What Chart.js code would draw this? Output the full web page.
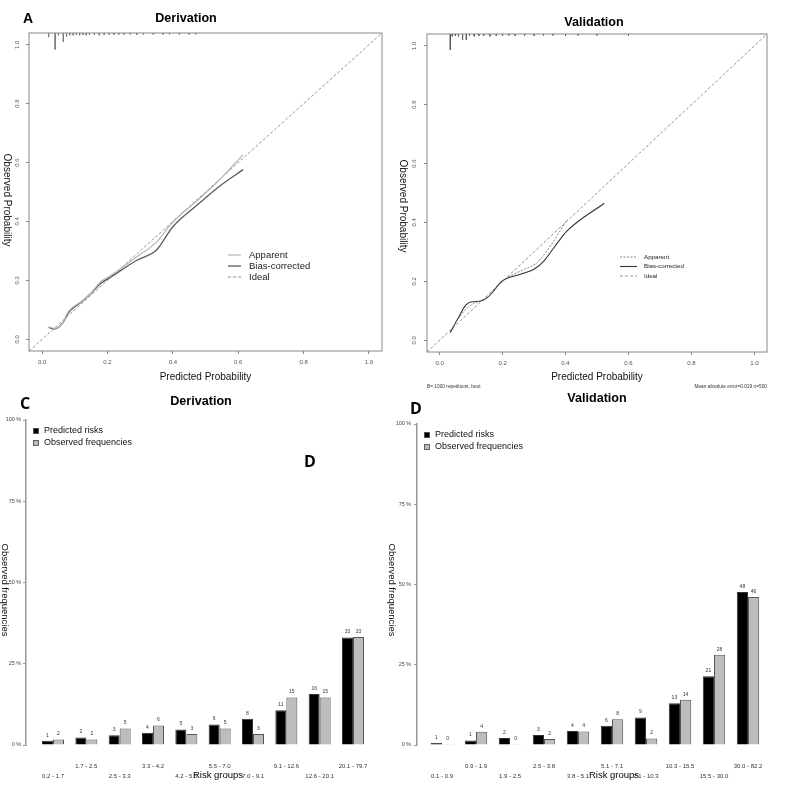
<!DOCTYPE html>
<html>
<head>
<meta charset="utf-8">
<script src="https://cdn.jsdelivr.net/npm/chart.js@4.4.1/dist/chart.umd.min.js"></script>
<style>
  body { margin: 0; background: #fff; width: 787px; height: 787px; position: relative; overflow: hidden;
         font-family: "Liberation Sans", Arial, sans-serif; }
  canvas { position: absolute; }
  .t { position: absolute; transform: translate(-50%, -50%); white-space: nowrap; color: #000; }
  .b { font-weight: bold; font-size: 12.6px; }
  .letter { font-family: "Open Sans", sans-serif; font-weight: bold; font-size: 16px; }
  .v { position: absolute; writing-mode: vertical-rl; transform: translate(-50%, -50%); white-space: nowrap; color: #111; }
</style>
</head>
<body>
<canvas id="cA" width="395" height="392" style="left:0;top:0"></canvas>
<canvas id="cB" width="392" height="392" style="left:395px;top:0"></canvas>
<canvas id="cC" width="395" height="402" style="left:0;top:385px"></canvas>
<canvas id="cD" width="397" height="402" style="left:390px;top:385px"></canvas>

<div class="t" style="left:28px;top:18px;font-weight:bold;font-size:14px">A</div>
<div class="t b" style="left:186px;top:18px">Derivation</div>
<div class="t b" style="left:594px;top:22px">Validation</div>
<div class="v" style="left:7px;top:200px;font-size:10px">Observed Probability</div>
<div class="v" style="left:403px;top:206px;font-size:10px">Observed Probability</div>

<div class="t letter" style="left:25px;top:403px">C</div>
<div class="t b" style="left:201px;top:401px">Derivation</div>
<div class="t letter" style="left:416px;top:408px">D</div>
<div class="t b" style="left:597px;top:398px">Validation</div>
<div class="t letter" style="left:310px;top:461px">D</div>
<div class="v" style="left:5px;top:590px;font-size:9.5px">Observed frequencies</div>
<div class="v" style="left:392px;top:590px;font-size:9.5px">Observed frequencies</div>
<div class="t" style="left:218px;top:774px;font-size:9.5px">Risk groups</div>
<div class="t" style="left:614px;top:774px;font-size:9.5px">Risk groups</div>

<script>
// calibration plots (A, B)
const probTicks = [0, 0.2, 0.4, 0.6, 0.8, 1.0];
const probRange = [-0.04, 1.04];

const derivX        = [0.02, 0.04, 0.065, 0.08, 0.12, 0.15, 0.18, 0.21, 0.29, 0.35, 0.40, 0.48, 0.54, 0.615];
const derivApparent = [0.042, 0.037, 0.060, 0.094, 0.128, 0.157, 0.196, 0.216, 0.280, 0.330, 0.398, 0.476, 0.538, 0.627];
const derivBias     = [0.040, 0.035, 0.058, 0.089, 0.126, 0.156, 0.190, 0.211, 0.268, 0.303, 0.382, 0.461, 0.517, 0.576];
const derivRugX   = [0.02, 0.04, 0.05, 0.065, 0.075, 0.085, 0.095, 0.105, 0.115, 0.125, 0.135, 0.145, 0.16, 0.175,
                     0.19, 0.205, 0.22, 0.235, 0.25, 0.27, 0.29, 0.31, 0.34, 0.37, 0.39, 0.42, 0.45, 0.47];
const derivRugLen = [0.014, 0.056, 0.008, 0.03, 0.012, 0.008, 0.008, 0.006, 0.008, 0.006, 0.008, 0.006, 0.006, 0.008,
                     0.006, 0.006, 0.006, 0.005, 0.006, 0.005, 0.006, 0.005, 0.005, 0.005, 0.005, 0.005, 0.005, 0.005];

const validBiasX    = [0.034, 0.057, 0.083, 0.099, 0.131, 0.157, 0.199, 0.257, 0.30, 0.331, 0.363, 0.405, 0.523];
const validBias     = [0.026, 0.071, 0.119, 0.130, 0.133, 0.150, 0.201, 0.224, 0.241, 0.269, 0.314, 0.371, 0.465];
const validAppX     = [0.035, 0.067, 0.094, 0.131, 0.157, 0.199, 0.257, 0.31, 0.352, 0.405];
const validApparent = [0.032, 0.085, 0.115, 0.135, 0.150, 0.201, 0.235, 0.264, 0.320, 0.410];
const validRugX   = [0.034, 0.04, 0.05, 0.06, 0.073, 0.085, 0.095, 0.11, 0.125, 0.14, 0.16, 0.18, 0.2, 0.22,
                     0.24, 0.27, 0.3, 0.33, 0.36, 0.4, 0.44, 0.5, 0.6];
const validRugLen = [0.054, 0.008, 0.006, 0.008, 0.02, 0.02, 0.006, 0.008, 0.006, 0.006, 0.008, 0.006, 0.006, 0.005,
                     0.006, 0.005, 0.006, 0.005, 0.005, 0.006, 0.005, 0.005, 0.005];

// risk group bar plots (C, D)
const pctTicks = [0, 25, 50, 75, 100];
const derivGroups    = ['0.2 - 1.7', '1.7 - 2.5', '2.5 - 3.3', '3.3 - 4.2', '4.2 - 5.5',
                        '5.5 - 7.0', '7.0 - 9.1', '9.1 - 12.6', '12.6 - 20.1', '20.1 - 79.7'];
const derivPredicted = [1.3, 2.3, 3.0, 3.8, 4.8, 6.3, 8.1, 10.7, 15.7, 33.1];
const derivObserved  = [1.7, 1.7, 5.1, 6.0, 3.4, 5.1, 3.4, 14.6, 14.6, 33.2];
const validGroups    = ['0.1 - 0.9', '0.9 - 1.9', '1.9 - 2.5', '2.5 - 3.8', '3.8 - 5.1',
                        '5.1 - 7.1', '7.1 - 10.3', '10.3 - 15.5', '15.5 - 30.0', '30.0 - 82.2'];
const validPredicted = [0.6, 1.4, 2.2, 3.1, 4.4, 6.0, 8.6, 13.0, 21.4, 47.7];
const validObserved  = [0.2, 4.1, 0.2, 1.9, 4.2, 8.0, 2.0, 14.1, 28.1, 46.1];

const FONT = '"Liberation Sans", Arial, sans-serif';
Chart.defaults.font.family = FONT;
Chart.defaults.color = '#555';

function fixSize(prop, size) {
  return scale => {
    scale[prop] = size;
    scale.paddingLeft = scale.paddingRight = scale.paddingTop = scale.paddingBottom = 0;
  };
}

function pts(xs, ys) {
  return xs.map((x, i) => ({ x, y: ys[i] }));
}

function rugPoints(xs, lens) {
  const out = [];
  xs.forEach((x, i) => {
    out.push({ x, y: probRange[1] }, { x, y: probRange[1] - lens[i] }, { x, y: null });
  });
  return out;
}

const frame = {
  id: 'frame',
  afterDraw(chart) {
    const { ctx, chartArea: a } = chart;
    ctx.save();
    ctx.strokeStyle = '#888';
    ctx.lineWidth = 1;
    ctx.strokeRect(a.left, a.top, a.right - a.left, a.bottom - a.top);
    ctx.restore();
  }
};

const lineLegend = {
  id: 'lineLegend',
  afterDraw(chart, args, o) {
    const ctx = chart.ctx;
    ctx.save();
    ctx.font = o.size + 'px ' + FONT;
    ctx.textBaseline = 'middle';
    let row = 0;
    chart.data.datasets.forEach(ds => {
      if (!ds.label) return;
      const y = o.y + row * o.rowGap;
      ctx.strokeStyle = ds.borderColor;
      ctx.lineWidth = ds.borderWidth;
      ctx.setLineDash(ds.borderDash || []);
      ctx.beginPath();
      ctx.moveTo(o.x, y);
      ctx.lineTo(o.x + o.len, y);
      ctx.stroke();
      ctx.setLineDash([]);
      ctx.fillStyle = '#222';
      ctx.fillText(ds.label, o.x + o.len + o.gap, y);
      row++;
    });
    ctx.restore();
  }
};

const footnotes = {
  id: 'footnotes',
  afterDraw(chart, args, o) {
    if (!o.left) return;
    const { ctx, chartArea: a } = chart;
    ctx.save();
    ctx.font = '4.8px ' + FONT;
    ctx.fillStyle = '#333';
    ctx.textBaseline = 'middle';
    ctx.textAlign = 'left';
    ctx.fillText(o.left, a.left, o.y);
    ctx.textAlign = 'right';
    ctx.fillText(o.right, a.right, o.y);
    ctx.restore();
  }
};

function calibChart(id, datasets, lay, legend, notes) {
  return new Chart(document.getElementById(id), {
    type: 'line',
    data: { datasets },
    plugins: [frame, lineLegend, footnotes],
    options: {
      responsive: false,
      animation: false,
      layout: { padding: { top: lay.top, right: lay.right, left: 0, bottom: 0 } },
      elements: { point: { radius: 0 } },
      plugins: {
        legend: { display: false },
        tooltip: { enabled: false },
        lineLegend: legend,
        footnotes: notes || {}
      },
      scales: {
        x: {
          type: 'linear', min: probRange[0], max: probRange[1],
          afterBuildTicks: s => { s.ticks = probTicks.map(v => ({ value: v })); },
          afterFit: fixSize('height', lay.xh),
          ticks: { font: { size: 6 }, color: '#555', padding: 5, maxRotation: 0, callback: v => v.toFixed(1) },
          grid: { drawOnChartArea: false, tickLength: 3, color: '#888' },
          border: { display: false },
          title: { display: true, text: 'Predicted Probability', color: '#111', font: { size: 10 },
                   padding: { top: 0, bottom: 9 } }
        },
        y: {
          type: 'linear', min: probRange[0], max: probRange[1],
          afterBuildTicks: s => { s.ticks = probTicks.map(v => ({ value: v })); },
          afterFit: fixSize('width', lay.yw),
          ticks: { font: { size: 6 }, color: '#555', padding: lay.ypad, minRotation: 90, maxRotation: 90,
                   crossAlign: 'center', callback: v => v.toFixed(1) },
          grid: { drawOnChartArea: false, tickLength: 3, color: '#888' },
          border: { display: false }
        }
      }
    }
  });
}

calibChart('cA', [
  { label: 'Apparent', data: pts(derivX, derivApparent), borderColor: '#b4b4b4', borderWidth: 1.2,
    cubicInterpolationMode: 'monotone' },
  { label: 'Bias-corrected', data: pts(derivX, derivBias), borderColor: '#5a5a5a', borderWidth: 1.3,
    cubicInterpolationMode: 'monotone' },
  { label: 'Ideal', data: pts(probRange, probRange), borderColor: '#888', borderWidth: 0.9, borderDash: [3, 2] },
  { data: rugPoints(derivRugX, derivRugLen), borderColor: '#777', borderWidth: 0.9, spanGaps: false }
], { top: 33, right: 13, xh: 41, yw: 29, ypad: 4 },
   { x: 228, y: 255, len: 13, gap: 8, rowGap: 11, size: 9.5 });

calibChart('cB', [
  { label: 'Apparent', data: pts(validAppX, validApparent), borderColor: '#777', borderWidth: 0.9,
    borderDash: [2, 1.5], cubicInterpolationMode: 'monotone' },
  { label: 'Bias-corrected', data: pts(validBiasX, validBias), borderColor: '#333', borderWidth: 1.1,
    cubicInterpolationMode: 'monotone' },
  { label: 'Ideal', data: pts(probRange, probRange), borderColor: '#888', borderWidth: 0.9, borderDash: [3, 2] },
  { data: rugPoints(validRugX, validRugLen), borderColor: '#555', borderWidth: 0.9, spanGaps: false }
], { top: 34, right: 20, xh: 40, yw: 32, ypad: 5 },
   { x: 225, y: 257, len: 17, gap: 7, rowGap: 9.5, size: 6.2 },
   { left: 'B= 1000 repetitions, boot', right: 'Mean absolute error=0.019 n=500', y: 387 });

// bar plots
const valueLabels = {
  id: 'valueLabels',
  afterDatasetsDraw(chart) {
    const ctx = chart.ctx;
    ctx.save();
    ctx.font = '5px ' + FONT;
    ctx.fillStyle = '#333';
    ctx.textAlign = 'center';
    ctx.textBaseline = 'bottom';
    chart.data.datasets.forEach((ds, di) => {
      chart.getDatasetMeta(di).data.forEach((bar, i) => {
        ctx.fillText(Math.round(ds.data[i].y), bar.x, bar.y - 3);
      });
    });
    ctx.restore();
  }
};

const squareLegend = {
  id: 'squareLegend',
  afterDraw(chart, args, o) {
    const { ctx, chartArea: a } = chart;
    ctx.save();
    ctx.font = '9px ' + FONT;
    ctx.textBaseline = 'middle';
    chart.data.datasets.forEach((ds, i) => {
      const x = a.left + o.left;
      const y = a.top + o.top + i * o.rowGap;
      ctx.fillStyle = ds.backgroundColor;
      ctx.fillRect(x - 2.5, y - 2.5, 5, 5);
      ctx.strokeStyle = '#444';
      ctx.lineWidth = 0.8;
      ctx.strokeRect(x - 2.5, y - 2.5, 5, 5);
      ctx.fillStyle = '#111';
      ctx.fillText(ds.label, x + 8, y);
    });
    ctx.restore();
  }
};

function barChart(id, groups, predicted, observed, lay) {
  const barData = vals => vals.map((v, i) => ({ x: i, y: v }));
  return new Chart(document.getElementById(id), {
    type: 'bar',
    data: {
      datasets: [
        { label: 'Predicted risks', data: barData(predicted), backgroundColor: '#000',
          borderColor: '#333', borderWidth: 1 },
        { label: 'Observed frequencies', data: barData(observed), backgroundColor: '#bdbdbd',
          borderColor: '#555', borderWidth: 1 }
      ]
    },
    plugins: [valueLabels, squareLegend],
    options: {
      responsive: false,
      animation: false,
      layout: { padding: { top: lay.top, right: lay.right, left: 0, bottom: 0 } },
      datasets: { bar: { categoryPercentage: 0.66, barPercentage: 1.0 } },
      plugins: {
        legend: { display: false },
        tooltip: { enabled: false },
        squareLegend: { left: 10, top: 11, rowGap: 12 }
      },
      scales: {
        x: {
          type: 'linear', min: lay.xmin, max: lay.xmax, offset: false,
          afterBuildTicks: s => { s.ticks = groups.map((g, i) => ({ value: i })); },
          afterFit: fixSize('height', 42),
          ticks: {
            font: { size: 6, lineHeight: 1.7 }, color: '#333', padding: 8, maxRotation: 0, autoSkip: false,
            callback: v => (v % 2 === 0 ? ['', groups[v]] : [groups[v], ''])
          },
          grid: { display: false },
          border: { display: false }
        },
        y: {
          min: 0, max: 100,
          afterBuildTicks: s => { s.ticks = pctTicks.map(v => ({ value: v })); },
          afterFit: fixSize('width', lay.yw),
          ticks: { font: { size: 5.4 }, color: '#444', padding: lay.ypad, callback: v => v + ' %' },
          grid: { drawOnChartArea: false, tickLength: 3, color: '#999' },
          border: { color: '#999', width: 1.5 }
        }
      }
    }
  });
}

barChart('cC', derivGroups, derivPredicted, derivObserved,
  { top: 35, right: 15, yw: 26, ypad: 2, xmin: -0.81, xmax: 9.81 });
barChart('cD', validGroups, validPredicted, validObserved,
  { top: 39, right: 10, yw: 27, ypad: 3, xmin: -0.735, xmax: 9.853 });
</script>
</body>
</html>
